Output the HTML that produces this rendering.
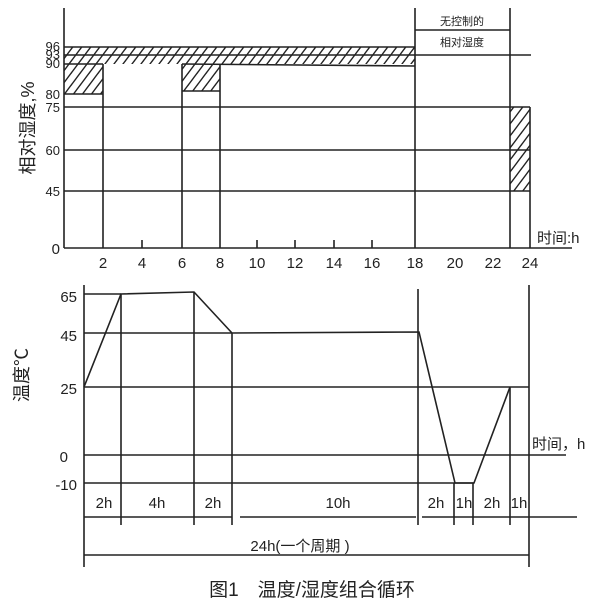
<!DOCTYPE html>
<html><head><meta charset="utf-8"><style>
body{margin:0;background:#fff}
svg{display:block}
text{font-family:"Liberation Sans","Noto Sans CJK SC",sans-serif;fill:#222}
</style></head><body>
<svg width="600" height="609" viewBox="0 0 600 609" xmlns="http://www.w3.org/2000/svg">
<defs>
<pattern id="h" patternUnits="userSpaceOnUse" width="9" height="12">
<line x1="-9" y1="12" x2="9" y2="-12" stroke="#222" stroke-width="1.4"/>
<line x1="0" y1="12" x2="9" y2="0" stroke="#222" stroke-width="1.4"/>
<line x1="0" y1="24" x2="18" y2="0" stroke="#222" stroke-width="1.4"/>
</pattern>
</defs>
<g stroke="#222" stroke-width="1.6" fill="none">
<rect x="64" y="47" width="351" height="17" fill="url(#h)" stroke="none"/>
<rect x="64" y="64" width="39" height="30" fill="url(#h)" stroke="none"/>
<rect x="182" y="64" width="38" height="27" fill="url(#h)" stroke="none"/>
<rect x="510" y="107" width="20" height="84" fill="url(#h)" stroke="none"/>
<line x1="64" y1="8" x2="64" y2="248"/>
<line x1="64" y1="248" x2="572" y2="248"/>
<line x1="64" y1="47" x2="415" y2="47"/>
<line x1="64" y1="55" x2="531" y2="55"/>
<line x1="64" y1="64" x2="103" y2="64"/>
<line x1="182" y1="64" x2="415" y2="66"/>
<line x1="64" y1="94" x2="103" y2="94"/>
<line x1="182" y1="91" x2="220" y2="91"/>
<line x1="64" y1="107" x2="530" y2="107"/>
<line x1="64" y1="150" x2="530" y2="150"/>
<line x1="64" y1="191" x2="530" y2="191"/>
<line x1="103" y1="64" x2="103" y2="248"/>
<line x1="182" y1="64" x2="182" y2="248"/>
<line x1="220" y1="64" x2="220" y2="248"/>
<line x1="415" y1="8" x2="415" y2="248"/>
<line x1="510" y1="8" x2="510" y2="248"/>
<line x1="530" y1="107" x2="530" y2="248"/>
<line x1="415" y1="30" x2="510" y2="30"/>
<line x1="142" y1="240" x2="142" y2="248"/>
<line x1="257" y1="240" x2="257" y2="248"/>
<line x1="295" y1="240" x2="295" y2="248"/>
<line x1="334" y1="240" x2="334" y2="248"/>
<line x1="372" y1="240" x2="372" y2="248"/>
<line x1="84" y1="285" x2="84" y2="567"/>
<line x1="529" y1="285" x2="529" y2="567"/>
<line x1="84" y1="294" x2="121" y2="294"/>
<line x1="84" y1="333" x2="232" y2="333"/>
<line x1="84" y1="387" x2="529" y2="387"/>
<line x1="84" y1="455" x2="566" y2="455"/>
<line x1="84" y1="483" x2="474" y2="483"/>
<polyline points="84,387 121,294 194,292 232,333 419,332 455,483 474,483 510,387"/>
<line x1="121" y1="294" x2="121" y2="525"/>
<line x1="194" y1="292" x2="194" y2="525"/>
<line x1="232" y1="333" x2="232" y2="525"/>
<line x1="418" y1="289" x2="418" y2="525"/>
<line x1="454" y1="483" x2="454" y2="525"/>
<line x1="473" y1="483" x2="473" y2="525"/>
<line x1="510" y1="387" x2="510" y2="525"/>
<line x1="84" y1="517" x2="232" y2="517"/>
<line x1="240" y1="517" x2="416" y2="517"/>
<line x1="422" y1="517" x2="577" y2="517"/>
<line x1="84" y1="555" x2="529" y2="555"/>
</g>
<g font-size="13">
<text x="60" y="51" text-anchor="end">96</text>
<text x="60" y="59" text-anchor="end">93</text>
<text x="60" y="68" text-anchor="end">90</text>
<text x="60" y="99" text-anchor="end">80</text>
<text x="60" y="112" text-anchor="end">75</text>
<text x="60" y="155" text-anchor="end">60</text>
<text x="60" y="196" text-anchor="end">45</text>
</g>
<text x="60" y="254" text-anchor="end" font-size="15">0</text>
<g font-size="15" text-anchor="middle">
<text x="103" y="268">2</text><text x="142" y="268">4</text><text x="182" y="268">6</text>
<text x="220" y="268">8</text><text x="257" y="268">10</text><text x="295" y="268">12</text>
<text x="334" y="268">14</text><text x="372" y="268">16</text><text x="415" y="268">18</text>
<text x="455" y="268">20</text><text x="493" y="268">22</text><text x="530" y="268">24</text>
</g>
<text x="537" y="243" font-size="15">时间:h</text>
<text x="462" y="25" font-size="11" text-anchor="middle">无控制的</text>
<text x="462" y="46" font-size="11" text-anchor="middle">相对湿度</text>
<text transform="translate(34,128) rotate(-90)" font-size="18" text-anchor="middle">相对湿度,%</text>
<g font-size="15" text-anchor="end">
<text x="77" y="302">65</text><text x="77" y="341">45</text><text x="77" y="394">25</text>
<text x="68" y="462">0</text><text x="77" y="490">-10</text>
</g>
<text transform="translate(28,375) rotate(-90)" font-size="18" text-anchor="middle">温度℃</text>
<text x="532" y="449" font-size="15">时间，h</text>
<g font-size="15" text-anchor="middle">
<text x="104" y="508">2h</text><text x="157" y="508">4h</text><text x="213" y="508">2h</text>
<text x="338" y="508">10h</text><text x="436" y="508">2h</text><text x="464" y="508">1h</text>
<text x="492" y="508">2h</text><text x="519" y="508">1h</text>
<text x="300" y="551">24h(一个周期 )</text>
</g>
<text x="312" y="596" font-size="19" text-anchor="middle">图1　温度/湿度组合循环</text>
</svg>
</body></html>
